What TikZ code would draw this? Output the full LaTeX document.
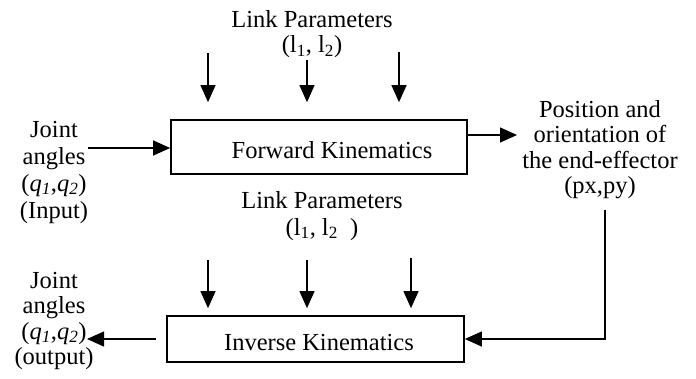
\documentclass[tikz,border=0pt]{standalone}
\usepackage{fontspec}
\setmainfont{Liberation Serif}
\usetikzlibrary{arrows.meta}
\newcommand{\stk}[1]{\begin{tabular}[t]{@{}c@{}}#1\end{tabular}}
\newcommand{\qq}{(\textit{q}\textsubscript{\textit{1}},\textit{q}\textsubscript{\textit{2}})}
\begin{document}
\begin{tikzpicture}[x=1pt,y=-1pt,
  txt/.style={inner sep=0pt, anchor=base, font=\fontsize{24.5}{25.5}\selectfont},
  txtw/.style={inner sep=0pt, anchor=base, font=\fontsize{24.5}{27}\selectfont},
  blk/.style={draw, line width=1.7pt, inner sep=0pt, text height=22pt, text depth=0pt,
    font=\fontsize{24.5}{25.5}\selectfont},
  arr/.style={-{Triangle[length=17pt,width=15pt]}, line width=1.2pt}]
\useasboundingbox (0,0) rectangle (696,378);

% blocks
\node[blk, minimum width=296pt, minimum height=54pt] (fk) at (319,147) {\hspace*{26pt}Forward Kinematics};
\node[blk, minimum width=297pt, minimum height=46pt] (ik) at (315.5,339) {\hspace*{7pt}Inverse Kinematics};

% texts
\node[txt] (lp1) at (312,27) {\stk{Link Parameters\\(l\textsubscript{1}, l\textsubscript{2})}};
\node[txtw] (lp2) at (322,208) {\stk{Link Parameters\\(l\textsubscript{1}, l\textsubscript{2}\ \ )}};
\node[txtw] (jin) at (54,137) {\stk{Joint\\angles\\\qq\\(Input)}};
\node[txt] (jout) at (54,288) {\stk{Joint\\angles\\\qq\\(output)}};
\node[txt] (pos) at (600,117) {\stk{Position and\\orientation of\\the end-effector\\(px,py)}};

% top parameter arrows
\coordinate (a1) at (208,53);
\coordinate (a2) at (307,60);
\coordinate (a3) at (399,52);
\foreach \c in {a1,a2,a3}
  \draw[arr, shorten >=17pt] (\c) -- (\c |- fk.north);

% bottom parameter arrows
\coordinate (b1) at (208,260);
\coordinate (b2) at (307,260);
\coordinate (b3) at (411,258);
\foreach \c in {b1,b2,b3}
  \draw[arr, shorten >=7pt] (\c) -- (\c |- ik.north);

% input / output of forward kinematics
\coordinate (ia) at (88,148);
\draw[arr] (ia) -- (ia -| fk.west);
\coordinate (oa) at (517,135);
\draw[arr] (oa -| fk.east) -- (oa);

% feedback to inverse kinematics
\coordinate (fb) at (605,210);
\draw[arr] (fb) |- (ik.east);

% output of inverse kinematics
\coordinate (ob) at (87,339);
\draw[arr, shorten <=10pt] (ik.west) -- (ob);
\end{tikzpicture}
\end{document}
